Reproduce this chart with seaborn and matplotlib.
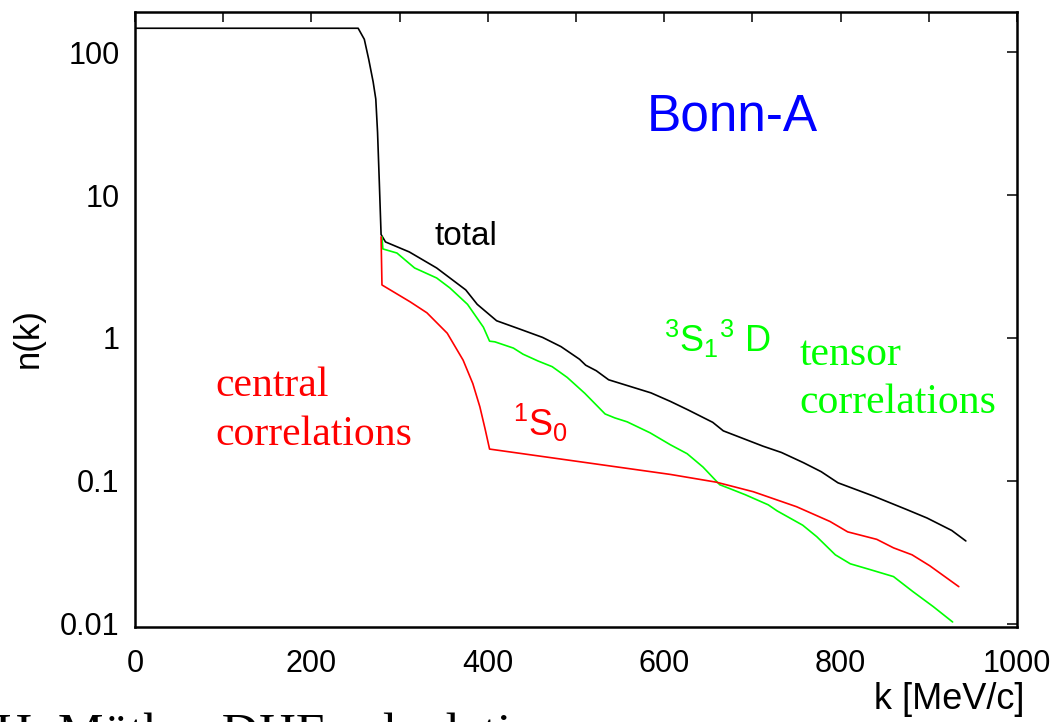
import matplotlib
matplotlib.use("Agg")
import matplotlib.pyplot as plt
from matplotlib.ticker import FixedLocator, NullLocator, MultipleLocator
import seaborn as sns
import pandas as pd

# ---- data ----
total_k = [0, 253, 260, 265, 270, 273, 275, 277, 279, 284, 311, 342, 375, 388, 410, 437,
           462, 483, 504, 511, 523, 537, 585, 607, 627, 655, 667, 712, 733, 758, 778, 797,
           838, 875, 898, 926, 942]
total_n = [147, 147, 123, 89, 62, 47, 27.5, 12.3, 5.3, 4.7, 4.0, 3.09, 2.17, 1.72, 1.32, 1.15,
           1.01, 0.87, 0.71, 0.645, 0.59, 0.51, 0.413, 0.36, 0.314, 0.257, 0.224, 0.175, 0.158,
           0.134, 0.116, 0.097, 0.078, 0.063, 0.055, 0.045, 0.038]

tensor_k = [280, 281, 297, 317, 342, 357, 377, 395, 402, 408, 429, 440, 457, 473, 490, 510,
            533, 544, 558, 584, 607, 626, 644, 663, 673, 692, 718, 728, 757, 773, 794, 811,
            833, 860, 882, 905, 927]
tensor_n = [5.1, 4.2, 3.93, 3.09, 2.63, 2.24, 1.72, 1.19, 0.95, 0.94, 0.85, 0.77, 0.69, 0.63,
            0.53, 0.41, 0.294, 0.276, 0.259, 0.217, 0.179, 0.155, 0.125, 0.094, 0.089, 0.080,
            0.068, 0.0617, 0.049, 0.0407, 0.0304, 0.0263, 0.024, 0.0214, 0.0168, 0.0132, 0.0103]

central_k = [279, 280, 312, 331, 354, 372, 383, 391, 397, 402, 607, 659, 701, 750, 788, 808,
             841, 860, 881, 901, 934]
central_n = [5.1, 2.35, 1.79, 1.5, 1.08, 0.70, 0.48, 0.33, 0.23, 0.167, 0.111, 0.098, 0.084,
             0.066, 0.052, 0.044, 0.039, 0.034, 0.0304, 0.0255, 0.0182]

series_names = ["total", "3S1-3D", "1S0"]
series_colors = ["#000000", "#00ff00", "#ff0000"]

x_ticks = [0, 200, 400, 600, 800, 1000]
y_ticks = [0.01, 0.1, 1, 10, 100]
y_tick_labels = ["0.01", "0.1", "1", "10", "100"]

# ---- build table ----
frames = []
for name, ks, ns in zip(series_names, [total_k, tensor_k, central_k],
                        [total_n, tensor_n, central_n]):
    frames.append(pd.DataFrame({"k": ks, "n": ns, "series": name}))
df = pd.concat(frames, ignore_index=True)

sns.set_style("white")
plt.rcParams["font.family"] = ["Liberation Sans", "DejaVu Sans"]
plt.rcParams["mathtext.fontset"] = "custom"
plt.rcParams["mathtext.rm"] = "Liberation Sans"
plt.rcParams["mathtext.it"] = "Liberation Sans:italic"
plt.rcParams["mathtext.bf"] = "Liberation Sans:bold"

fig = plt.figure(figsize=(10.6, 7.22), dpi=100)
ax = fig.add_axes([135 / 1060, 1 - 627 / 722, 882 / 1060, 615 / 722])

sns.lineplot(data=df, x="k", y="n", hue="series", hue_order=series_names,
             palette=dict(zip(series_names, series_colors)), estimator=None,
             sort=False, legend=False, linewidth=1.2, ax=ax)

ax.set_yscale("log")
ax.set_xlim(0, 1000)
ax.set_ylim(0.0095, 191)

ax.xaxis.set_major_locator(FixedLocator(x_ticks))
ax.xaxis.set_minor_locator(MultipleLocator(100))
ax.yaxis.set_major_locator(FixedLocator(y_ticks))
ax.yaxis.set_minor_locator(NullLocator())
ax.set_yticklabels(y_tick_labels)

ax.tick_params(axis="both", which="both", direction="in", top=True, right=True,
               length=7.5, width=1.1, color="black", labelsize=22, labelcolor="black")
ax.tick_params(axis="x", which="major", pad=16)
ax.tick_params(axis="y", which="major", pad=11)

for sp in ax.spines.values():
    sp.set_linewidth(1.8)
    sp.set_color("black")
    sp.set_visible(True)

ax.set_xlabel("k [MeV/c]", fontsize=26, color="black")
ax.xaxis.set_label_coords(1.009, -0.09)
ax.xaxis.label.set_horizontalalignment("right")
ax.set_ylabel("n(k)", fontsize=25, color="black")
ax.yaxis.set_label_coords(-0.102, 0.47)

# ---- annotations ----
ax.text(677, 28.5, "Bonn-A", color="#0000ff", fontsize=37, ha="center", va="baseline")
ax.text(340, 4.47, "total", color="black", fontsize=24, ha="left", va="baseline")
serif = ["Liberation Serif", "DejaVu Serif"]
ax.text(91, 0.393, "central", color="#ff0000", fontsize=30, family=serif, ha="left", va="baseline")
ax.text(91, 0.179, "correlations", color="#ff0000", fontsize=30, family=serif, ha="left", va="baseline")
ax.text(753, 0.647, "tensor", color="#00ff00", fontsize=30, family=serif, ha="left", va="baseline")
ax.text(753, 0.299, "correlations", color="#00ff00", fontsize=30, family=serif, ha="left", va="baseline")
ax.text(429, 0.206, r"$^{1}$S$_{0}$", color="#ff0000", fontsize=26, ha="left", va="baseline")
ax.text(600, 0.80, r"$^{3}$S$_{1}$$^{3}$ D", color="#00ff00", fontsize=26, ha="left", va="baseline")

fig.text(-5 / 1060, 1 - 748 / 722, "H. Müther DHF calculation", fontsize=37,
         family=serif, color="black", ha="left", va="baseline")

fig.savefig("out.png", dpi=100)
